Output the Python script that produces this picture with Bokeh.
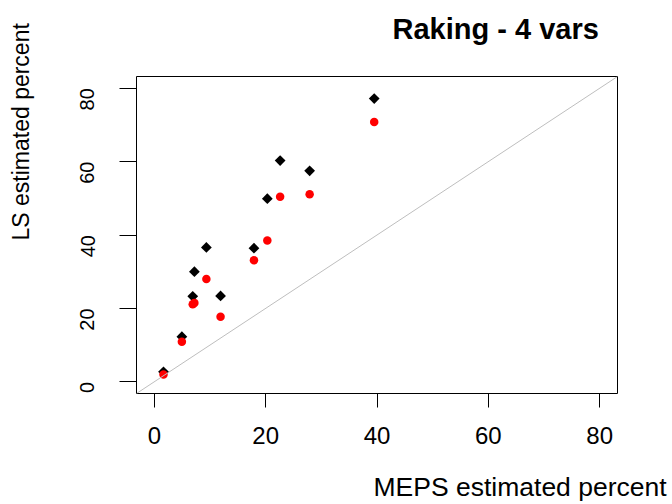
import math
from bokeh.plotting import figure
from bokeh.models import Range1d, Title, Slope, FixedTicker
from bokeh.embed import file_html
from bokeh.resources import INLINE

# ---- data ----
meps_pct = [39.5, 22.6, 27.9, 20.3, 9.35, 17.9, 7.2, 6.9, 11.9, 4.95, 1.65]
ls_black = [77.2, 60.3, 57.5, 49.9, 36.6, 36.4, 30.0, 23.3, 23.4, 12.3, 2.7]
ls_red = [70.8, 50.4, 51.1, 38.5, 28.0, 33.1, 21.5, 21.1, 17.7, 10.9, 2.0]

ticks = [0, 20, 40, 60, 80]
title_text = "Raking - 4 vars"
xlab = "MEPS estimated percent"
ylab = "LS estimated percent"

FONT = "Liberation Sans"

p = figure(width=672, height=504, output_backend="svg", toolbar_location=None,
           x_range=Range1d(-3.2, 83.2), y_range=Range1d(-3.2, 83.2),
           min_border_left=136, min_border_right=55, min_border_top=76,
           min_border_bottom=109, title=None)
p.background_fill_color = "white"
p.border_fill_color = "white"
p.outline_line_color = "black"
p.outline_line_width = 1
p.xgrid.visible = False
p.ygrid.visible = False

for ax in (p.xaxis[0], p.yaxis[0]):
    ax.ticker = FixedTicker(ticks=ticks)
    ax.axis_line_color = None
    ax.minor_tick_line_color = None
    ax.major_tick_in = 0
    ax.major_tick_line_color = "black"
    ax.major_label_text_font = FONT
    ax.major_label_text_color = "black"

p.xaxis.major_tick_out = 14
p.xaxis.major_label_text_font_size = "24px"
p.xaxis.major_label_standoff = 19
p.yaxis.major_tick_out = 17
p.yaxis.major_label_text_font_size = "20px"
p.yaxis.major_label_orientation = math.pi / 2
p.yaxis.major_label_standoff = 32

# diagonal reference line
p.add_layout(Slope(gradient=1, y_intercept=0, line_color="#BEBEBE", line_width=1))

# series
p.scatter(meps_pct, ls_black, marker="square", angle=math.pi / 4, size=7.6,
          fill_color="black", line_color=None)
p.scatter(meps_pct, ls_red, marker="circle", size=8.5,
          fill_color="#FF0000", line_color=None)

# texts as titles in the side panels (not clipped); an empty line is used
# to keep each text at its distance from the plot box
p.add_layout(Title(text=title_text + "\n", text_font=FONT, text_font_size="29px",
                   text_font_style="bold", text_color="black", align="left",
                   offset=256, vertical_align="top", standoff=0,
                   text_line_height=0.93), "above")
p.add_layout(Title(text="\n" + xlab, text_font=FONT, text_font_size="26.5px",
                   text_font_style="normal", text_color="black", align="left",
                   offset=237, vertical_align="top", standoff=0,
                   text_line_height=0.85), "below")
p.add_layout(Title(text=ylab + "\n", text_font=FONT, text_font_size="23px",
                   text_font_style="normal", text_color="black", align="left",
                   offset=153, vertical_align="top", standoff=0,
                   text_line_height=1.35), "left")

open("out.html", "w").write(file_html(p, INLINE))
